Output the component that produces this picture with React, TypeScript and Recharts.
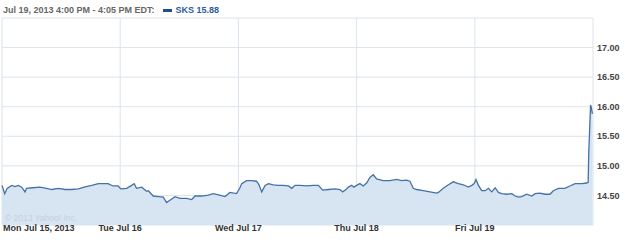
import { AreaChart, Area, XAxis, YAxis, CartesianGrid } from 'recharts';

// minutes since Monday's open (390 trading minutes per day)
const times = [
  0, 9, 17, 32, 43, 54, 65, 76, 81, 102, 125, 147, 164, 186, 208, 230, 252, 274, 296, 318, 333, 350, 366, 383,
  392, 411, 428, 436, 444, 461, 477, 483, 499, 516, 532, 543, 554, 571, 587, 609, 626, 637, 659, 681, 697, 714, 736, 752, 774,
  785, 791, 807, 824, 840, 848, 857, 868, 879, 895, 912, 928, 945, 956, 967, 983, 1005, 1027, 1044, 1058, 1077, 1099, 1115, 1124, 1135, 1143, 1154, 1161, 1170,
  1181, 1192, 1203, 1214, 1225, 1236, 1258, 1280, 1302, 1319, 1335, 1346, 1357, 1368, 1390, 1412, 1434, 1440, 1456, 1473, 1489, 1506, 1522, 1539, 1550, 1558,
  1564, 1572, 1583, 1594, 1605, 1616, 1627, 1638, 1649, 1665, 1682, 1693, 1704, 1715, 1731, 1748, 1759, 1775, 1792, 1808, 1819, 1836, 1857, 1874, 1891, 1913, 1929, 1934, 1936, 1942, 1945, 1948,
];

const prices = [
  14.67, 14.53, 14.62, 14.67, 14.65, 14.67, 14.64, 14.56, 14.62, 14.63, 14.64, 14.62, 14.6, 14.62, 14.6, 14.6, 14.61, 14.645, 14.67, 14.7, 14.7, 14.7, 14.66, 14.66,
  14.61, 14.62, 14.67, 14.7, 14.62, 14.64, 14.57, 14.58, 14.49, 14.48, 14.47, 14.38, 14.42, 14.48, 14.45, 14.45, 14.43, 14.49, 14.49, 14.505, 14.53, 14.51, 14.48, 14.55, 14.53,
  14.63, 14.7, 14.75, 14.75, 14.74, 14.68, 14.56, 14.67, 14.7, 14.68, 14.67, 14.67, 14.66, 14.62, 14.67, 14.67, 14.66, 14.67, 14.67, 14.59, 14.6, 14.61, 14.6, 14.56, 14.6, 14.64, 14.67, 14.64, 14.67,
  14.7, 14.66, 14.71, 14.805, 14.85, 14.78, 14.75, 14.75, 14.77, 14.75, 14.76, 14.74, 14.62, 14.6, 14.58, 14.56, 14.54, 14.55, 14.62, 14.68, 14.73, 14.7, 14.68, 14.64, 14.67, 14.7,
  14.77, 14.67, 14.58, 14.58, 14.62, 14.56, 14.63, 14.55, 14.53, 14.52, 14.53, 14.49, 14.47, 14.48, 14.52, 14.49, 14.53, 14.54, 14.52, 14.52, 14.58, 14.62, 14.62, 14.66, 14.7, 14.7, 14.71, 14.72, 15.22, 16.03, 15.97, 15.88,
];

const dayTicks = [0, 390, 780, 1170, 1560, 1950];
const dayLabels = ['Mon Jul 15, 2013', 'Tue Jul 16', 'Wed Jul 17', 'Thu Jul 18', 'Fri Jul 19', ''];
const priceTicks = [14, 14.5, 15, 15.5, 16, 16.5, 17, 17.5];

const data = times.map((t, i) => ({ t, price: prices[i] }));

const FONT = '"Liberation Sans", Arial, sans-serif';

function DayTick(props: any) {
  const { x, y, payload, index } = props;
  const label = dayLabels[index] ?? '';
  if (!label) return null;
  return (
    <text
      x={index === 0 ? x + 1 : x}
      y={y}
      dy={3.5}
      textAnchor={index === 0 ? 'start' : 'middle'}
      fontFamily={FONT}
      fontSize={9}
      fontWeight="bold"
      fill="#333333"
    >
      {label}
    </text>
  );
}

function PriceTick(props: any) {
  const { x, y, payload } = props;
  const v = payload.value as number;
  if (v <= 14 || v >= 17.5) return null;
  return (
    <text x={x} y={y} dy={3.2} textAnchor="start" fontFamily={FONT} fontSize={9} fontWeight="bold" fill="#444444">
      {v.toFixed(2)}
    </text>
  );
}

export default function App() {
  return (
    <div style={{ position: 'absolute', left: 0, top: 0, width: 625, height: 240, background: '#fff', fontFamily: FONT }}>
      <AreaChart width={625} height={240} data={data} margin={{ top: 18, right: 0, left: 2, bottom: 0 }}>
        <CartesianGrid stroke="#dce4eb" strokeWidth={1} />
        <XAxis
          dataKey="t"
          type="number"
          domain={[0, 1950]}
          ticks={dayTicks}
          height={15}
          axisLine={false}
          tickLine={false}
          tickSize={0}
          tickMargin={2}
          tick={<DayTick />}
          interval={0}
        />
        <YAxis
          orientation="right"
          type="number"
          domain={[14, 17.5]}
          ticks={priceTicks}
          width={32}
          axisLine={false}
          tickLine={false}
          tickSize={2}
          tickMargin={2}
          tick={<PriceTick />}
          interval={0}
        />
        <Area
          type="linear"
          dataKey="price"
          stroke="#4571a5"
          strokeWidth={1.3}
          fill="#d6e5f1"
          fillOpacity={1}
          baseValue={14}
          dot={false}
          activeDot={false}
          isAnimationActive={false}
        />
      </AreaChart>

      <div
        style={{
          position: 'absolute',
          left: 3,
          top: 4,
          fontSize: 9,
          fontWeight: 'bold',
          color: '#666666',
          whiteSpace: 'nowrap',
          lineHeight: '12px',
        }}
      >
        Jul 19, 2013 4:00 PM - 4:05 PM EDT:
        <span
          style={{
            display: 'inline-block',
            width: 9,
            height: 3,
            background: '#1f4e8a',
            marginLeft: 8,
            marginRight: 4,
            verticalAlign: 'middle',
          }}
        />
        <span style={{ color: '#2a5d9c' }}>SKS 15.88</span>
      </div>

      <div
        style={{
          position: 'absolute',
          left: 5,
          top: 212,
          fontSize: 8.5,
          color: '#c3d1dc',
          whiteSpace: 'nowrap',
          lineHeight: '12px',
        }}
      >
        © 2013 Yahoo! Inc.
      </div>
    </div>
  );
}
